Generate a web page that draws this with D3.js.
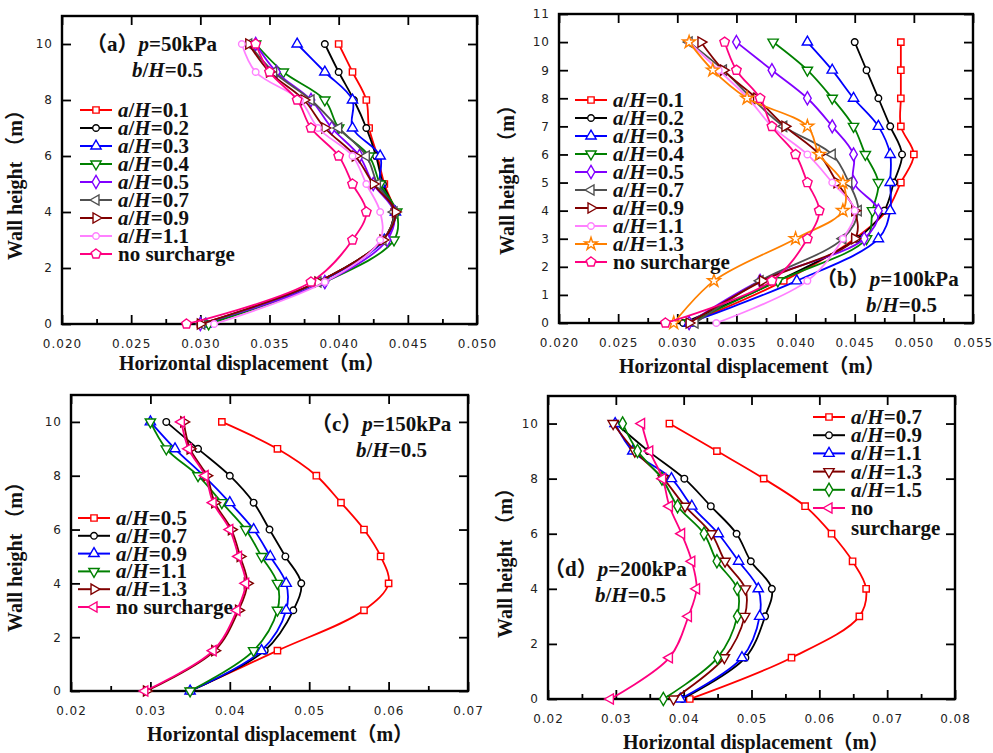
<!DOCTYPE html>
<html>
<head>
<meta charset="utf-8">
<script src="https://cdn.jsdelivr.net/npm/d3@7"></script>
<style>
  body { margin: 0; background: #fff; }
  svg { display: block; }
  .tick-label { font-family: "DejaVu Sans", sans-serif; font-size: 12px; letter-spacing: 1px; fill: #222; }
  .serif { font-family: "Liberation Serif", "Times New Roman", "Noto Sans CJK SC", serif; font-weight: bold; fill: #111; }
</style>
</head>
<body>
<div id="chart"></div>
<script>
// wall heights (m) at which displacements were read
var heights = [10, 9, 8, 7, 6, 5, 4, 3, 1.5, 0];

// (a) p=50kPa
var namesA = ['0.1', '0.2', '0.3', '0.4', '0.5', '0.7', '0.9', '1.1', 'no surcharge'];
var valuesA = [
  [0.0400, 0.0410, 0.0420, 0.0422, 0.0428, 0.0433, 0.0440, 0.0432, 0.0385, 0.0300],
  [0.0390, 0.0400, 0.0411, 0.0420, 0.0427, 0.0432, 0.0440, 0.0432, 0.0385, 0.0302],
  [0.0370, 0.0390, 0.0410, 0.0410, 0.0430, 0.0430, 0.0441, 0.0433, 0.0386, 0.0304],
  [0.0340, 0.0360, 0.0390, 0.0400, 0.0422, 0.0430, 0.0442, 0.0440, 0.0390, 0.0306],
  [0.0340, 0.0355, 0.0380, 0.0395, 0.0415, 0.0425, 0.0440, 0.0435, 0.0390, 0.0300],
  [0.0335, 0.0353, 0.0380, 0.0400, 0.0420, 0.0428, 0.0440, 0.0432, 0.0385, 0.0301],
  [0.0335, 0.0350, 0.0375, 0.0390, 0.0412, 0.0425, 0.0441, 0.0432, 0.0385, 0.0300],
  [0.0330, 0.0340, 0.0372, 0.0385, 0.0410, 0.0420, 0.0430, 0.0430, 0.0390, 0.0310],
  [0.0340, 0.0350, 0.0370, 0.0380, 0.0400, 0.0410, 0.0420, 0.0410, 0.0380, 0.0290]
];

// (b) p=100kPa
var namesB = ['0.1', '0.2', '0.3', '0.4', '0.5', '0.7', '0.9', '1.1', '1.3', 'no surcharge'];
var valuesB = [
  [0.0489, 0.0489, 0.0489, 0.0489, 0.0500, 0.0489, 0.0477, 0.0450, 0.0390, 0.0310],
  [0.0450, 0.0460, 0.0470, 0.0480, 0.0490, 0.0483, 0.0475, 0.0452, 0.0385, 0.0305],
  [0.0410, 0.0431, 0.0449, 0.0470, 0.0480, 0.0480, 0.0480, 0.0470, 0.0401, 0.0310],
  [0.0381, 0.0410, 0.0431, 0.0449, 0.0459, 0.0470, 0.0465, 0.0460, 0.0385, 0.0310],
  [0.0350, 0.0380, 0.0410, 0.0431, 0.0449, 0.0449, 0.0470, 0.0458, 0.0370, 0.0310],
  [0.0310, 0.0339, 0.0363, 0.0390, 0.0431, 0.0445, 0.0453, 0.0440, 0.0370, 0.0315],
  [0.0320, 0.0339, 0.0367, 0.0391, 0.0420, 0.0435, 0.0450, 0.0450, 0.0372, 0.0310],
  [0.0310, 0.0335, 0.0360, 0.0380, 0.0410, 0.0431, 0.0450, 0.0440, 0.0410, 0.0333],
  [0.0310, 0.0330, 0.0359, 0.0410, 0.0420, 0.0440, 0.0440, 0.0400, 0.0331, 0.0297],
  [0.0340, 0.0350, 0.0370, 0.0380, 0.0400, 0.0410, 0.0420, 0.0410, 0.0380, 0.0290]
];

// (c) p=150kPa
var namesC = ['0.5', '0.7', '0.9', '1.1', '1.3', 'no surcharge'];
var valuesC = [
  [0.0390, 0.0460, 0.0509, 0.0540, 0.0569, 0.0590, 0.0600, 0.0569, 0.0460, 0.0350],
  [0.0320, 0.0360, 0.0400, 0.0430, 0.0450, 0.0470, 0.0490, 0.0480, 0.0444, 0.0350],
  [0.0300, 0.0331, 0.0367, 0.0400, 0.0430, 0.0451, 0.0471, 0.0471, 0.0440, 0.0350],
  [0.0300, 0.0320, 0.0360, 0.0390, 0.0420, 0.0440, 0.0460, 0.0460, 0.0430, 0.0350],
  [0.0342, 0.0350, 0.0371, 0.0381, 0.0402, 0.0413, 0.0422, 0.0411, 0.0381, 0.0295],
  [0.0339, 0.0348, 0.0369, 0.0379, 0.0400, 0.0411, 0.0420, 0.0409, 0.0379, 0.0293]
];

// (d) p=200kPa
var namesD = ['0.7', '0.9', '1.1', '1.3', '1.5', 'no surcharge'];
var valuesD = [
  [0.0379, 0.0449, 0.0518, 0.0579, 0.0618, 0.0649, 0.0669, 0.0659, 0.0559, 0.0409],
  [0.0300, 0.0348, 0.0401, 0.0440, 0.0478, 0.0499, 0.0530, 0.0520, 0.0491, 0.0398],
  [0.0299, 0.0325, 0.0382, 0.0412, 0.0451, 0.0481, 0.0510, 0.0512, 0.0486, 0.0395],
  [0.0296, 0.0328, 0.0370, 0.0402, 0.0441, 0.0461, 0.0491, 0.0490, 0.0460, 0.0385],
  [0.0310, 0.0332, 0.0368, 0.0391, 0.0430, 0.0449, 0.0479, 0.0479, 0.0450, 0.0370],
  [0.0338, 0.0350, 0.0369, 0.0379, 0.0397, 0.0412, 0.0419, 0.0407, 0.0379, 0.0292]
];

var red = '#ff0000', black = '#000000', blue = '#0000ff', green = '#008000',
    purple = '#8000ff', gray = '#505050', darkred = '#800000', violet = '#ff80ff',
    orange = '#ff8000', pink = '#ff0080';

// pentagon marker for "no surcharge" in (a) and (b)
var symbolPentagon = {
  draw: function (context, size) {
    var r = Math.sqrt(size / 2.378);
    for (var i = 0; i < 5; i++) {
      var a = -Math.PI / 2 + i * 2 * Math.PI / 5;
      if (i === 0) context.moveTo(r * Math.cos(a), r * Math.sin(a));
      else context.lineTo(r * Math.cos(a), r * Math.sin(a));
    }
    context.closePath();
  }
};

var shapes = {
  square: { type: d3.symbolSquare, size: 40, rot: 0 },
  circle: { type: d3.symbolCircle, size: 34, rot: 0 },
  up: { type: d3.symbolTriangle, size: 46, rot: 0 },
  down: { type: d3.symbolTriangle, size: 46, rot: 180 },
  left: { type: d3.symbolTriangle, size: 46, rot: -90 },
  right: { type: d3.symbolTriangle, size: 46, rot: 90 },
  diamond: { type: d3.symbolDiamond, size: 50, rot: 0 },
  star: { type: d3.symbolStar, size: 50, rot: 0 },
  pentagon: { type: symbolPentagon, size: 60, rot: 0 }
};

var W = 993, H = 753;
var svg = d3.select('#chart').append('svg').attr('width', W).attr('height', H);

function drawMarker(g, shapeName, color, cx, cy) {
  var s = shapes[shapeName];
  g.append('path')
    .attr('d', d3.symbol().type(s.type).size(s.size)())
    .attr('transform', 'translate(' + cx + ',' + cy + ') rotate(' + s.rot + ')')
    .attr('fill', '#fff')
    .attr('stroke', color)
    .attr('stroke-width', 1.4);
}

function legendLabel(t, name) {
  if (name === 'no surcharge') {
    t.append('tspan').text('no surcharge');
  } else {
    t.append('tspan').attr('font-style', 'italic').text('a');
    t.append('tspan').text('/');
    t.append('tspan').attr('font-style', 'italic').text('H');
    t.append('tspan').text('=' + name);
  }
}

function drawPanel(p) {
  var x = d3.scaleLinear().domain(p.xDomain).range(p.xRange);
  var y = d3.scaleLinear().domain([0, 11]).range(p.yRange);
  var g = svg.append('g');
  var x0 = p.xRange[0], x1 = p.xRange[1], y0 = p.yRange[0], y1 = p.yRange[1];

  // bottom / top axes with inward ticks
  var bottom = g.append('g').attr('transform', 'translate(0,' + y0 + ')')
    .call(d3.axisBottom(x).tickValues(p.xTicks).tickSizeInner(-9).tickSizeOuter(0)
      .tickPadding(15).tickFormat(d3.format(p.xFormat)));
  bottom.selectAll('text').attr('class', 'tick-label').attr('fill', null);
  bottom.call(function (a) { a.select('.domain').remove(); });
  g.append('g').attr('transform', 'translate(0,' + y0 + ')')
    .call(d3.axisBottom(x).tickValues(p.xMinor).tickSizeInner(-5).tickSizeOuter(0).tickFormat(''))
    .call(function (a) { a.select('.domain').remove(); });
  g.append('g').attr('transform', 'translate(0,' + y1 + ')')
    .call(d3.axisTop(x).tickValues(p.xTicks).tickSizeInner(-9).tickSizeOuter(0).tickFormat(''))
    .call(function (a) { a.select('.domain').remove(); });

  var left = g.append('g').attr('transform', 'translate(' + x0 + ',0)')
    .call(d3.axisLeft(y).tickValues(p.yTicks).tickSizeInner(-9).tickSizeOuter(0)
      .tickPadding(9).tickFormat(function (d) { return p.yLabels.indexOf(d) >= 0 ? d : ''; }));
  left.selectAll('text').attr('class', 'tick-label').attr('fill', null);
  left.call(function (a) { a.select('.domain').remove(); });
  g.append('g').attr('transform', 'translate(' + x1 + ',0)')
    .call(d3.axisRight(y).tickValues(p.yTicks).tickSizeInner(-9).tickSizeOuter(0).tickFormat(''))
    .call(function (a) { a.select('.domain').remove(); });
  g.selectAll('.tick line').attr('stroke', '#000').attr('stroke-width', 1.8);

  g.append('rect')
    .attr('x', x0).attr('y', y1).attr('width', x1 - x0).attr('height', y0 - y1)
    .attr('fill', 'none').attr('stroke', '#000').attr('stroke-width', 2.4);

  // series
  var line = d3.line()
    .x(function (d) { return x(d[0]); })
    .y(function (d) { return y(d[1]); })
    .curve(d3.curveCatmullRom.alpha(0.5));

  p.values.forEach(function (vals, i) {
    var pts = vals.map(function (v, j) { return [v, heights[j]]; });
    var col = p.colors[i];
    g.append('path').datum(pts).attr('d', line)
      .attr('fill', 'none').attr('stroke', col).attr('stroke-width', 1.8);
    pts.forEach(function (d) { drawMarker(g, p.shapes[i], col, x(d[0]), y(d[1])); });
  });

  // legend
  var lg = g.append('g');
  p.names.forEach(function (name, i) {
    var ly = p.legend.y + i * p.legend.dy;
    var lx = p.legend.x;
    lg.append('line').attr('x1', lx).attr('x2', lx + 32).attr('y1', ly).attr('y2', ly)
      .attr('stroke', p.colors[i]).attr('stroke-width', 2);
    drawMarker(lg, p.shapes[i], p.colors[i], lx + 16, ly);
    var t = lg.append('text').attr('class', 'serif').attr('font-size', 21)
      .attr('x', lx + 38).attr('y', ly + 7);
    if (name === 'no surcharge' && p.legend.wrap) {
      t.text('no');
      lg.append('text').attr('class', 'serif').attr('font-size', 21)
        .attr('x', lx + 38).attr('y', ly + 7 + p.legend.dy + 2).text('surcharge');
    } else {
      legendLabel(t, name);
    }
  });

  // panel title
  var t1 = g.append('text').attr('class', 'serif').attr('font-size', 21)
    .attr('x', p.title.x).attr('y', p.title.y);
  t1.append('tspan').text('（' + p.tag + '）');
  t1.append('tspan').attr('font-style', 'italic').text('p');
  t1.append('tspan').text('=' + p.pressure);
  var t2 = g.append('text').attr('class', 'serif').attr('font-size', 21)
    .attr('x', p.title.x2).attr('y', p.title.y + 26);
  t2.append('tspan').attr('font-style', 'italic').text('b');
  t2.append('tspan').text('/');
  t2.append('tspan').attr('font-style', 'italic').text('H');
  t2.append('tspan').text('=0.5');

  // axis titles
  g.append('text').attr('class', 'serif').attr('font-size', 20)
    .attr('text-anchor', 'middle')
    .attr('x', p.xTitle[0]).attr('y', p.xTitle[1])
    .text('Horizontal displacement（m）');
  g.append('text').attr('class', 'serif').attr('font-size', 20)
    .attr('text-anchor', 'middle')
    .attr('transform', 'translate(' + p.yTitle[0] + ',' + p.yTitle[1] + ') rotate(-90)')
    .text('Wall height （m）');
}

function steps(a, b, s) { return d3.range(a, b + s / 2, s).map(function (v) { return +v.toFixed(4); }); }

drawPanel({
  tag: 'a', pressure: '50kPa', names: namesA, values: valuesA,
  colors: [red, black, blue, green, purple, gray, darkred, violet, pink],
  shapes: ['square', 'circle', 'up', 'down', 'diamond', 'left', 'right', 'circle', 'pentagon'],
  xDomain: [0.02, 0.05], xRange: [62, 477], yRange: [324, 16],
  xTicks: steps(0.02, 0.05, 0.005), xMinor: steps(0.0225, 0.0475, 0.005), xFormat: '.3f',
  yTicks: [0, 2, 4, 6, 8, 10], yLabels: [0, 2, 4, 6, 8, 10],
  legend: { x: 80, y: 110, dy: 18 },
  title: { x: 86, y: 51, x2: 132 },
  xTitle: [252, 370], yTitle: [22, 180]
});

drawPanel({
  tag: 'b', pressure: '100kPa', names: namesB, values: valuesB,
  colors: [red, black, blue, green, purple, gray, darkred, violet, orange, pink],
  shapes: ['square', 'circle', 'up', 'down', 'diamond', 'left', 'right', 'circle', 'star', 'pentagon'],
  xDomain: [0.02, 0.055], xRange: [559, 973], yRange: [323, 14],
  xTicks: steps(0.02, 0.055, 0.005), xMinor: steps(0.0225, 0.0525, 0.005), xFormat: '.3f',
  yTicks: steps(0, 11, 1), yLabels: steps(0, 11, 1),
  legend: { x: 575, y: 100, dy: 18 },
  title: { x: 816, y: 286, x2: 866 },
  xTitle: [752, 373], yTitle: [514, 175]
});

drawPanel({
  tag: 'c', pressure: '150kPa', names: namesC, values: valuesC,
  colors: [red, black, blue, green, darkred, pink],
  shapes: ['square', 'circle', 'up', 'down', 'right', 'left'],
  xDomain: [0.02, 0.07], xRange: [71, 468], yRange: [691, 395],
  xTicks: steps(0.02, 0.07, 0.01), xMinor: steps(0.025, 0.065, 0.01), xFormat: '.2f',
  yTicks: [0, 2, 4, 6, 8, 10], yLabels: [0, 2, 4, 6, 8, 10],
  legend: { x: 78, y: 518, dy: 17.8 },
  title: { x: 311, y: 431, x2: 356 },
  xTitle: [280, 741], yTitle: [22, 552]
});

drawPanel({
  tag: 'd', pressure: '200kPa', names: namesD, values: valuesD,
  colors: [red, black, blue, darkred, green, pink],
  shapes: ['square', 'circle', 'up', 'down', 'diamond', 'left'],
  xDomain: [0.02, 0.08], xRange: [548, 955], yRange: [699, 396],
  xTicks: steps(0.02, 0.08, 0.01), xMinor: steps(0.025, 0.075, 0.01), xFormat: '.2f',
  yTicks: [0, 2, 4, 6, 8, 10], yLabels: [0, 2, 4, 6, 8, 10],
  legend: { x: 813, y: 417, dy: 18.2, wrap: true },
  title: { x: 544, y: 576, x2: 595 },
  xTitle: [756, 749], yTitle: [512, 558]
});
</script>
</body>
</html>
